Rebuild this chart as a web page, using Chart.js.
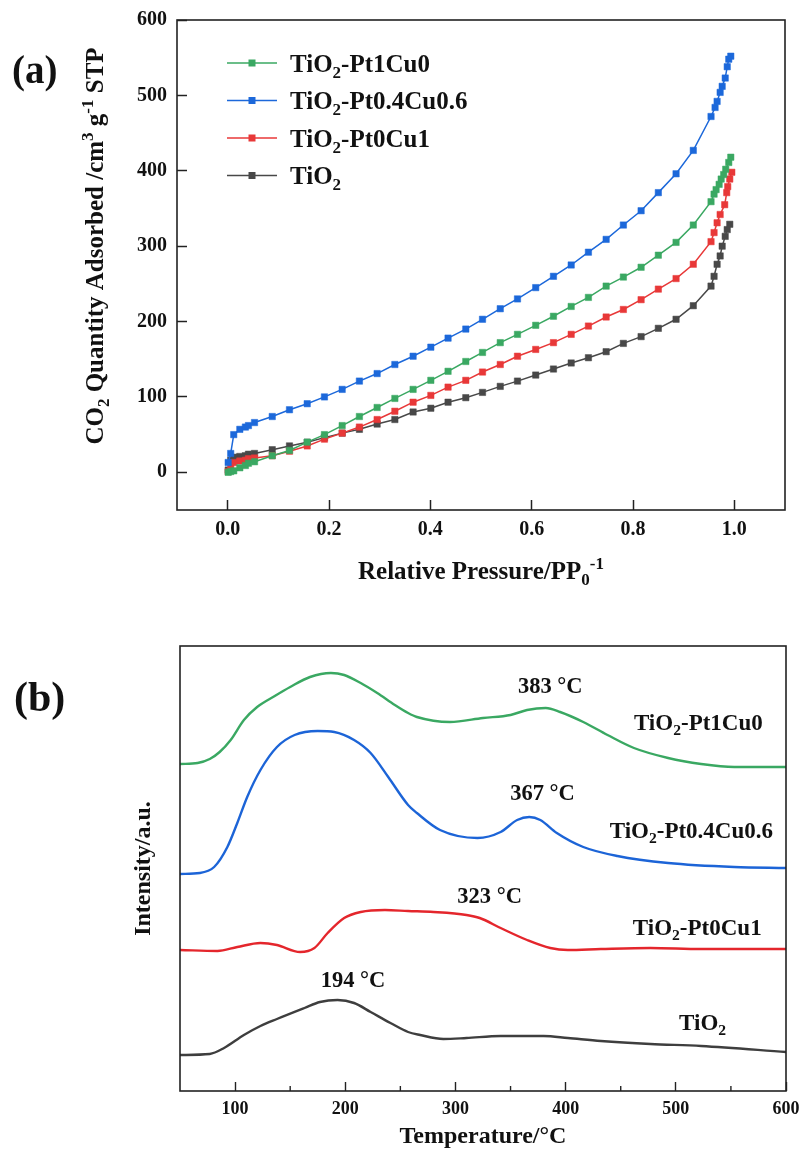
<!DOCTYPE html>
<html><head><meta charset="utf-8">
<script src="https://cdn.jsdelivr.net/npm/chart.js@4.4.0/dist/chart.umd.min.js"></script>
<style>
html,body{margin:0;padding:0;background:#fff;}
#wrap{position:relative;width:801px;height:1162px;overflow:hidden;}
.box{position:absolute;left:0;width:801px;}
</style></head><body>
<div id="wrap">
<div class="box" style="top:0;height:600px"><canvas id="ca" width="801" height="600"></canvas></div>
<div class="box" style="top:600px;height:562px"><canvas id="cb" width="801" height="562"></canvas></div>
</div>
<script>
// ---------------- DATA (a): CO2 adsorption isotherms ----------------
const SERIES_A = ['TiO2-Pt1Cu0', 'TiO2-Pt0.4Cu0.6', 'TiO2-Pt0Cu1', 'TiO2'];
const P_COMMON = [0.001,0.006,0.012,0.024,0.035,0.041,0.053,0.088,0.122,0.157,0.191,0.226,0.26,0.295,0.33,0.366,0.401,0.435,0.47,0.503,0.538,0.572,0.608,0.643,0.678,0.712,0.747,0.781,0.816,0.85,0.885,0.919,0.954];
const Q_GREEN = [0,1,2,6,9,12,14,22,29,40,50,62,74,86,98,110,122,134,147,159,172,183,195,207,220,232,247,259,272,288,305,328,359];
const P_GREEN_HI = [0.96,0.964,0.97,0.974,0.979,0.983,0.989,0.993];
const Q_GREEN_HI = [369,375,382,389,395,402,411,418];
const Q_BLUE = [13,25,50,57,60,62,66,74,83,91,100,110,121,131,143,154,166,178,190,203,217,230,245,260,275,292,309,328,347,371,396,427,472];
const P_BLUE_HI = [0.962,0.966,0.972,0.976,0.982,0.986,0.989,0.993];
const Q_BLUE_HI = [484,492,504,512,523,538,548,552];
const Q_RED = [1,8,13,15,16,18,19,22,28,35,44,52,60,70,81,93,102,113,122,133,143,154,163,172,183,194,206,216,229,243,257,276,306];
const P_RED_HI = [0.96,0.966,0.972,0.981,0.985,0.987,0.991,0.995];
const Q_RED_HI = [318,331,342,355,371,379,389,398];
const Q_BLACK = [3,16,20,21,22,24,25,30,35,40,46,52,57,64,70,80,85,93,99,106,114,121,129,137,145,152,160,171,180,191,203,221,247];
const P_BLACK_HI = [0.96,0.966,0.972,0.976,0.982,0.986,0.991];
const Q_BLACK_HI = [260,276,287,300,313,322,329];
const X_TICKS_A = [0,0.2,0.4,0.6,0.8,1.0];
const Y_TICKS_A = [0,100,200,300,400,500,600];

// ---------------- DATA (b): CO2-TPD ----------------
const T_GREEN = [50,66,77,86,96,108,120,136,150,168,187,199,214,229,245,257,265,295,325,350,365,382,395,416,438,462,493,523,553,600];
const I_GREEN = [327,328,332,339,351,371,384,395,404,414,418,416,408,398,386,378,374,369,373,376,381,383,379,369,356,343,333,327,324,324];
const T_BLUE = [50,68,81,93,102,111,123,138,154,175,190,208,223,239,257,265,286,320,341,356,367,377,392,416,447,493,553,600];
const I_BLUE = [217,218,224,244,268,294,321,344,356,360,359,351,338,314,286,278,261,253,259,271,274,271,258,244,235,228,224,223];
const T_RED = [50,84,102,123,138,159,172,184,199,214,236,257,280,310,322,341,365,386,402,432,477,523,600];
const I_RED = [141,140,144,148,146,139,143,158,173,179,181,180,179,176,173,163,151,143,141,142,143,142,142];
const T_BLACK = [50,77,90,108,123,138,163,177,193,208,223,241,257,268,289,310,341,380,402,432,477,523,600];
const I_BLACK = [36,37,43,56,65,72,83,89,91,88,79,68,59,56,52,53,55,55,53,50,47,45,39];
const X_TICKS_B = [100,200,300,400,500,600];
const X_MINOR_B = [150,250,350,450,550];
const PEAK_LABELS = [['383 °C',386,406],['367 °C',379,299],['323 °C',331,196],['194 °C',207,112]];
const SERIES_LABELS_B = [['TiO2-Pt1Cu0',462,369],['TiO2-Pt0.4Cu0.6',440,261],['TiO2-Pt0Cu1',461,164],['TiO2',503,69]];

// ---------------- helpers ----------------
const FONT = "'Liberation Serif','Times New Roman',serif";
const INK = '#111';
const COL = {green:'rgb(58,168,98)', blue:'rgb(28,104,218)', red:'rgb(232,56,56)', black:'rgb(72,72,72)'};
const COLB = {green:'rgb(58,168,98)', blue:'rgb(28,100,215)', red:'rgb(228,38,44)', black:'rgb(62,62,62)'};
function pts(px, qy){ return px.map((x,i)=>({x, y:qy[i]})); }
function rich(label){ // split 'TiO2-...' into parts with subscript 2
  const m = label.match(/^TiO2(.*)$/);
  if(m) return [['TiO',0],['2',1],[m[1],0]];
  return [[label,0]];
}
function richWidth(ctx, parts, size){
  let w=0; for(const [t,m] of parts){ ctx.font = `bold ${m? size*0.68 : size}px ${FONT}`; w += ctx.measureText(t).width; } return w;
}
function drawRich(ctx, parts, x, base, size, align){
  const w = richWidth(ctx, parts, size);
  let cx = align==='center' ? x - w/2 : (align==='right' ? x - w : x);
  ctx.textAlign='left'; ctx.textBaseline='alphabetic'; ctx.fillStyle = INK;
  for(const [t,m] of parts){
    const s = m ? size*0.68 : size;
    ctx.font = `bold ${s}px ${FONT}`;
    const dy = m===1 ? size*0.24 : (m===2 ? -size*0.40 : 0);
    ctx.fillText(t, cx, base+dy);
    cx += ctx.measureText(t).width;
  }
}
function noEdgePad(s){ s.paddingLeft = 0; s.paddingRight = 0; s.paddingTop = 0; s.paddingBottom = 0; }

// ---------------- chart (a) ----------------
const dsA = [
  {label:SERIES_A[0], data:pts(P_COMMON.concat(P_GREEN_HI), Q_GREEN.concat(Q_GREEN_HI)), color:COL.green},
  {label:SERIES_A[1], data:pts(P_COMMON.concat(P_BLUE_HI), Q_BLUE.concat(Q_BLUE_HI)), color:COL.blue},
  {label:SERIES_A[2], data:pts(P_COMMON.concat(P_RED_HI), Q_RED.concat(Q_RED_HI)), color:COL.red},
  {label:SERIES_A[3], data:pts(P_COMMON.concat(P_BLACK_HI), Q_BLACK.concat(Q_BLACK_HI)), color:COL.black}
].map(d=>({label:d.label, data:d.data, borderColor:d.color, backgroundColor:d.color,
  pointBackgroundColor:d.color, pointBorderColor:d.color, borderWidth:1.5, pointStyle:'rect',
  pointRadius:4.5, pointBorderWidth:0.5, tension:0, fill:false}));

const boxPlugin = {
  id:'box',
  afterDraw(chart){
    const {ctx, chartArea:a} = chart;
    ctx.save(); ctx.strokeStyle='#222'; ctx.lineWidth=1.6;
    ctx.strokeRect(a.left, a.top, a.right-a.left, a.bottom-a.top);
    ctx.restore();
  }
};

const decoA = {
  id:'decoA',
  afterDraw(chart){
    const ctx = chart.ctx; const a = chart.chartArea;
    ctx.save();
    // legend
    const rows=[63,100.5,138,175.5];
    chart.data.datasets.forEach((d,i)=>{
      const y=rows[i];
      ctx.strokeStyle=d.borderColor; ctx.lineWidth=1.6;
      ctx.beginPath(); ctx.moveTo(227,y); ctx.lineTo(277,y); ctx.stroke();
      ctx.fillStyle=d.borderColor; ctx.fillRect(248.5,y-3.5,7,7);
      drawRich(ctx, rich(d.label), 290, y+8.5, 25, 'left');
    });
    // axis titles
    const cxT = (a.left+a.right)/2;
    drawRich(ctx, [['Relative Pressure/PP',0],['0',1],['-1',2]], cxT, 579, 25, 'center');
    ctx.save(); ctx.translate(94,246); ctx.rotate(-Math.PI/2);
    drawRich(ctx, [['CO',0],['2',1],[' Quantity Adsorbed /cm',0],['3',2],[' g',0],['-1',2],[' STP',0]], 0, 8.5, 25, 'center');
    ctx.restore();
    // panel label
    ctx.fillStyle=INK; ctx.font=`bold 39px ${FONT}`; ctx.textAlign='left'; ctx.textBaseline='alphabetic';
    ctx.fillText('(a)', 12, 83);
    ctx.restore();
  }
};

new Chart(document.getElementById('ca'), {
  type:'line',
  data:{datasets:dsA},
  options:{
    responsive:false, animation:false, devicePixelRatio:1,
    layout:{padding:{top:20,right:16,left:0,bottom:0}},
    plugins:{legend:{display:false}, tooltip:{enabled:false}},
    scales:{
      x:{type:'linear', min:-0.1, max:1.1,
        afterBuildTicks(s){ s.ticks = X_TICKS_A.map(v=>({value:v})); },
        afterFit(s){ s.height = 90; noEdgePad(s); },
        grid:{display:true, drawOnChartArea:false, drawTicks:true, tickLength:-10, tickWidth:1.5, tickColor:'#222'},
        border:{display:false},
        ticks:{color:INK, padding:18, maxRotation:0, font:{family:FONT, size:20, weight:'bold'}, callback:v=>Number(v).toFixed(1)}
      },
      y:{type:'linear', min:-50, max:600,
        afterBuildTicks(s){ s.ticks = Y_TICKS_A.map(v=>({value:v})); },
        afterFit(s){ s.width = 177; noEdgePad(s); },
        grid:{display:true, drawOnChartArea:false, drawTicks:true, tickLength:-10, tickWidth:1.5, tickColor:'#222'},
        border:{display:false},
        ticks:{color:INK, padding:20, font:{family:FONT, size:20, weight:'bold'}, callback:v=>String(v)}
      }
    }
  },
  plugins:[boxPlugin, decoA]
});

// ---------------- chart (b) ----------------
const dsB = [
  {label:'TiO2-Pt1Cu0', data:pts(T_GREEN,I_GREEN), c:COLB.green},
  {label:'TiO2-Pt0.4Cu0.6', data:pts(T_BLUE,I_BLUE), c:COLB.blue},
  {label:'TiO2-Pt0Cu1', data:pts(T_RED,I_RED), c:COLB.red},
  {label:'TiO2', data:pts(T_BLACK,I_BLACK), c:COLB.black}
].map(d=>({label:d.label, data:d.data, borderColor:d.c, backgroundColor:d.c, borderWidth:2.4,
  pointRadius:0, cubicInterpolationMode:'monotone', fill:false}));

const decoB = {
  id:'decoB',
  afterDraw(chart){
    const ctx = chart.ctx; const a = chart.chartArea;
    const xs = chart.scales.x, ys = chart.scales.y;
    ctx.save();
    // minor ticks
    ctx.strokeStyle='#222'; ctx.lineWidth=1.4;
    X_MINOR_B.forEach(v=>{ const px = xs.getPixelForValue(v); ctx.beginPath(); ctx.moveTo(px,a.bottom); ctx.lineTo(px,a.bottom-5); ctx.stroke(); });
    // peak labels
    PEAK_LABELS.forEach(([t,x,y])=>{ drawRich(ctx, [[t,0]], xs.getPixelForValue(x), ys.getPixelForValue(y)+7.5, 22.5, 'center'); });
    SERIES_LABELS_B.forEach(([t,x,y])=>{ drawRich(ctx, rich(t), xs.getPixelForValue(x), ys.getPixelForValue(y)+7.5, 23, 'left'); });
    // axis titles
    drawRich(ctx, [['Temperature/°C',0]], (a.left+a.right)/2, 543, 24, 'center');
    ctx.save(); ctx.translate(142, (a.top+a.bottom)/2); ctx.rotate(-Math.PI/2);
    drawRich(ctx, [['Intensity/a.u.',0]], 0, 8, 24, 'center');
    ctx.restore();
    ctx.fillStyle=INK; ctx.font=`bold 42px ${FONT}`; ctx.textAlign='left'; ctx.textBaseline='alphabetic';
    ctx.fillText('(b)', 14, 111);
    ctx.restore();
  }
};

new Chart(document.getElementById('cb'), {
  type:'line',
  data:{datasets:dsB},
  options:{
    responsive:false, animation:false, devicePixelRatio:1,
    layout:{padding:{top:46,right:15,left:180,bottom:0}},
    plugins:{legend:{display:false}, tooltip:{enabled:false}},
    scales:{
      x:{type:'linear', min:50, max:600,
        afterBuildTicks(s){ s.ticks = X_TICKS_B.map(v=>({value:v})); },
        afterFit(s){ s.height = 71; noEdgePad(s); },
        grid:{display:true, drawOnChartArea:false, drawTicks:true, tickLength:-9, tickWidth:1.4, tickColor:'#222'},
        border:{display:false},
        ticks:{color:INK, padding:17, maxRotation:0, font:{family:FONT, size:18, weight:'bold'}, callback:v=>String(v)}
      },
      y:{type:'linear', min:0, max:445, display:false}
    }
  },
  plugins:[boxPlugin, decoB]
});
</script>
</body></html>
